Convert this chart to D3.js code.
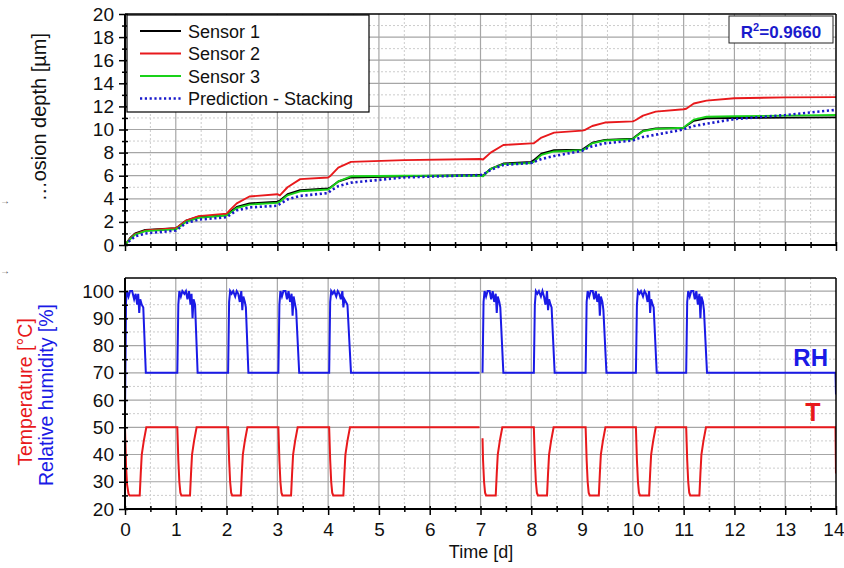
<!DOCTYPE html>
<html><head><meta charset="utf-8">
<script src="https://cdn.jsdelivr.net/npm/d3@7"></script>
<style>
body{margin:0;background:#fff}
svg{display:block;font-family:"Liberation Sans",Arial,Helvetica,sans-serif}
.domain{display:none}
</style>
</head><body>
<svg id="chart" width="844" height="568"></svg>
<script>
// ---------- DATA ----------
const time = [0,0.1,0.2,0.4,1.0,1.05,1.2,1.45,2.0,2.05,2.2,2.45,3.0,3.05,3.2,3.45,4.0,4.05,4.2,4.45,5.5,7.0,7.05,7.2,7.45,8.0,8.05,8.2,8.45,9.0,9.05,9.2,9.45,10.0,10.05,10.2,10.45,11.0,11.05,11.2,11.45,12.0,13.0,14.0];
const sensor1 = [0,0.6,1.0,1.3,1.45,1.6,2.1,2.45,2.6,2.8,3.3,3.6,3.75,3.85,4.4,4.75,4.9,5.0,5.5,5.85,5.95,6.06,6.0,6.6,7.05,7.2,7.35,7.9,8.2,8.25,8.4,8.85,9.1,9.2,9.4,9.9,10.1,10.15,10.3,10.75,10.97,11.0,11.03,11.05];
const sensor2 = [0,0.55,0.95,1.25,1.45,1.6,2.1,2.5,2.7,2.95,3.6,4.2,4.4,4.3,5.0,5.7,5.85,6.0,6.7,7.2,7.35,7.45,7.4,8.0,8.66,8.8,8.8,9.3,9.73,9.9,9.95,10.3,10.6,10.7,10.8,11.2,11.55,11.75,11.8,12.25,12.5,12.7,12.78,12.8];
const sensor3 = [0,0.5,0.9,1.2,1.35,1.5,2.0,2.35,2.55,2.7,3.2,3.5,3.65,3.75,4.3,4.65,4.8,4.95,5.5,5.95,6.0,6.0,5.95,6.6,7.0,7.1,7.2,7.8,8.1,8.2,8.3,8.8,9.05,9.15,9.35,9.85,10.05,10.15,10.35,10.85,11.1,11.15,11.2,11.25];
const prediction = [0,0.4,0.75,1.0,1.25,1.4,1.9,2.2,2.4,2.55,3.0,3.25,3.4,3.55,3.95,4.25,4.5,4.7,5.1,5.4,5.85,6.06,6.1,6.5,6.93,7.1,7.2,7.45,7.7,8.15,8.3,8.55,8.8,9.05,9.15,9.35,9.55,10.0,10.1,10.3,10.5,10.9,11.25,11.7];
const seriesNames = ["Sensor 1","Sensor 2","Sensor 3","Prediction - Stacking"];

// relative humidity [t, %] (null = gap in record)
const humidity = [
 [0,55],[0.02,96],[0.04,100],[0.07,98],[0.1,100],[0.14,100],[0.18,97],[0.21,99],[0.24,95],[0.26,99],[0.28,92],[0.3,97],[0.33,95],[0.36,94],[0.41,70],
 [1.03,70],[1.05,95],[1.07,100],[1.1,98],[1.13,100],[1.17,99],[1.2,100],[1.23,97],[1.26,100],[1.29,95],[1.31,99],[1.33,90],[1.35,97],[1.38,95],[1.43,70],
 [2.03,70],[2.05,96],[2.07,100],[2.1,99],[2.13,100],[2.17,98],[2.2,100],[2.23,99],[2.26,96],[2.29,100],[2.31,93],[2.33,98],[2.36,96],[2.38,94],[2.43,70],
 [3.02,70],[3.04,95],[3.06,100],[3.09,98],[3.12,100],[3.16,100],[3.19,97],[3.22,100],[3.25,96],[3.28,99],[3.3,91],[3.32,98],[3.35,95],[3.37,93],[3.43,70],
 [4.02,70],[4.04,96],[4.06,100],[4.09,99],[4.12,100],[4.16,98],[4.19,100],[4.22,99],[4.25,97],[4.28,100],[4.3,94],[4.32,97],[4.35,96],[4.38,95],[4.45,70],
 [6.98,70],[7.01,null],
 [7.04,70],[7.06,96],[7.08,100],[7.11,98],[7.14,100],[7.18,100],[7.21,97],[7.24,100],[7.27,96],[7.3,99],[7.32,92],[7.34,98],[7.37,96],[7.39,94],[7.45,70],
 [8.05,70],[8.07,95],[8.09,100],[8.12,99],[8.15,100],[8.19,98],[8.22,100],[8.25,98],[8.28,95],[8.31,100],[8.33,93],[8.35,97],[8.38,95],[8.4,94],[8.46,70],
 [9.07,70],[9.09,96],[9.11,100],[9.14,98],[9.17,100],[9.21,100],[9.24,97],[9.27,100],[9.3,96],[9.33,99],[9.35,91],[9.37,98],[9.4,96],[9.42,93],[9.48,70],
 [10.06,70],[10.08,95],[10.1,100],[10.13,99],[10.16,100],[10.2,98],[10.23,100],[10.26,99],[10.29,96],[10.32,100],[10.34,92],[10.36,97],[10.39,95],[10.41,94],[10.47,70],
 [11.05,70],[11.07,96],[11.09,100],[11.12,98],[11.15,100],[11.19,100],[11.22,97],[11.25,100],[11.28,95],[11.31,99],[11.33,90],[11.35,98],[11.38,96],[11.4,93],[11.46,70],
 [13.99,70],[14.0,62]
];
// temperature [t, °C]
const temperature = [
 [0,50],[0.02,36],[0.04,29],[0.07,25.5],[0.09,25],[0.29,25],[0.31,33],[0.33,40],[0.37,45],[0.42,50],
 [1.03,50],[1.05,38],[1.07,30],[1.09,26],[1.11,25],[1.28,25],[1.3,33],[1.32,40],[1.36,45],[1.41,50],
 [2.03,50],[2.05,38],[2.07,30],[2.09,26],[2.11,25],[2.28,25],[2.3,33],[2.32,40],[2.36,45],[2.41,50],
 [3.02,50],[3.04,38],[3.06,30],[3.08,26],[3.1,25],[3.27,25],[3.29,33],[3.31,40],[3.35,45],[3.4,50],
 [4.02,50],[4.04,38],[4.06,30],[4.08,26],[4.1,25],[4.3,25],[4.32,33],[4.34,40],[4.38,45],[4.43,50],
 [6.98,50],[7.01,null],
 [7.04,46],[7.05,38],[7.07,30],[7.09,26],[7.11,25],[7.3,25],[7.32,33],[7.34,40],[7.38,45],[7.43,50],
 [8.05,50],[8.07,38],[8.09,30],[8.11,26],[8.13,25],[8.31,25],[8.33,33],[8.35,40],[8.39,45],[8.44,50],
 [9.07,50],[9.09,38],[9.11,30],[9.13,26],[9.15,25],[9.33,25],[9.35,33],[9.37,40],[9.41,45],[9.46,50],
 [10.06,50],[10.08,38],[10.1,30],[10.12,26],[10.14,25],[10.32,25],[10.34,33],[10.36,40],[10.4,45],[10.45,50],
 [11.05,50],[11.07,38],[11.09,30],[11.11,26],[11.13,25],[11.31,25],[11.33,33],[11.35,40],[11.39,45],[11.44,50],
 [13.99,50],[14.0,33]
];
const xTicks = [0,1,2,3,4,5,6,7,8,9,10,11,12,13,14];
const topYTicks = [0,2,4,6,8,10,12,14,16,18,20];
const bottomYTicks = [20,30,40,50,60,70,80,90,100];

// ---------- LAYOUT ----------
const L = 125, R = 836;
const topT = 14, topB = 245, botT = 278, botB = 509;
const svg = d3.select("#chart");

const x = d3.scaleLinear().domain([0,14]).range([L,R]);
const yTop = d3.scaleLinear().domain([0,20]).range([topB,topT]);
const yBot = d3.scaleLinear().domain([20,104.8]).range([botB,botT]);

const colors = ["#000000","#e8191c","#19d219","#1a1acc"];

// grid
function grid(y, yMajor, yMinor, y0, y1) {
  const g = svg.append("g");
  const xMinor = d3.range(0.5,14,1);
  g.selectAll(".xm").data(xMinor).join("line")
    .attr("x1",d=>x(d)).attr("x2",d=>x(d)).attr("y1",y0).attr("y2",y1)
    .attr("stroke","#cccccc").attr("stroke-dasharray","2,2").attr("stroke-width",1);
  g.selectAll(".ym").data(yMinor).join("line")
    .attr("x1",L).attr("x2",R).attr("y1",d=>y(d)).attr("y2",d=>y(d))
    .attr("stroke","#cccccc").attr("stroke-dasharray","2,2").attr("stroke-width",1);
  g.selectAll(".xM").data(xTicks.slice(1,-1)).join("line")
    .attr("x1",d=>x(d)).attr("x2",d=>x(d)).attr("y1",y0).attr("y2",y1)
    .attr("stroke","#a6a6a6").attr("stroke-width",1.2);
  g.selectAll(".yM").data(yMajor).join("line")
    .attr("x1",L).attr("x2",R).attr("y1",d=>y(d)).attr("y2",d=>y(d))
    .attr("stroke","#a6a6a6").attr("stroke-width",1.2);
}
grid(yTop, d3.range(2,20,2), d3.range(1,20,2), topT, topB);
grid(yBot, d3.range(30,101,10), d3.range(25,104,10), botT, botB);

// clip paths
const defs = svg.append("defs");
defs.append("clipPath").attr("id","clipTop").append("rect").attr("x",L).attr("y",topT).attr("width",R-L).attr("height",topB-topT);
defs.append("clipPath").attr("id","clipBot").append("rect").attr("x",L).attr("y",botT).attr("width",R-L).attr("height",botB-botT);

// top lines
const series = [sensor1,sensor2,sensor3,prediction];
const lineTop = d3.line().x(d=>x(d[0])).y(d=>yTop(d[1]));
const gTop = svg.append("g").attr("clip-path","url(#clipTop)");
series.forEach((s,i)=>{
  const pts = time.map((t,j)=>[t,s[j]]);
  const p = gTop.append("path").datum(pts).attr("d",lineTop)
    .attr("fill","none").attr("stroke",colors[i]).attr("stroke-linejoin","round");
  if(i===3){ p.attr("stroke-width",2.6).attr("stroke-dasharray","2.2,2.6"); }
  else p.attr("stroke-width",1.9);
});

// bottom lines
const lineBot = d3.line().defined(d=>d[1]!==null).x(d=>x(d[0])).y(d=>yBot(d[1]));
const gBot = svg.append("g").attr("clip-path","url(#clipBot)");
gBot.append("path").datum(temperature).attr("d",lineBot).attr("fill","none").attr("stroke","#e8191c").attr("stroke-width",2);
gBot.append("path").datum(humidity).attr("d",lineBot).attr("fill","none").attr("stroke","#1a1ae6").attr("stroke-width",2);

// frames
function frame(y0,y1){
  svg.append("line").attr("x1",L).attr("x2",R).attr("y1",y0).attr("y2",y0).attr("stroke","#000").attr("stroke-width",1.5);
  svg.append("line").attr("x1",R).attr("x2",R).attr("y1",y0).attr("y2",y1).attr("stroke","#000").attr("stroke-width",1.5);
  svg.append("line").attr("x1",L).attr("x2",R).attr("y1",y1).attr("y2",y1).attr("stroke","#000").attr("stroke-width",2);
  svg.append("line").attr("x1",L).attr("x2",L).attr("y1",y0).attr("y2",y1).attr("stroke","#000").attr("stroke-width",2);
}
frame(topT,topB);
frame(botT,botB);

// axes
const fontTick = "19px";
function yAxis(y, ticks, minors){
  const a = svg.append("g").attr("transform",`translate(${L},0)`)
    .call(d3.axisLeft(y).tickValues(ticks).tickSizeInner(6).tickSizeOuter(0).tickPadding(5));
  a.selectAll("text").attr("font-size",fontTick).attr("fill","#111").attr("font-family","Liberation Sans, Arial, sans-serif");
  a.selectAll("line").attr("stroke","#000").attr("stroke-width",1.5);
  const b = svg.append("g").attr("transform",`translate(${L},0)`)
    .call(d3.axisRight(y).tickValues(ticks.concat(minors)).tickSize(3).tickFormat(""));
  b.selectAll("line").attr("stroke","#000").attr("stroke-width",1.5);
  const c = svg.append("g").attr("transform",`translate(${L},0)`)
    .call(d3.axisLeft(y).tickValues(minors).tickSize(3).tickFormat(""));
  c.selectAll("line").attr("stroke","#000").attr("stroke-width",1.5);
}
yAxis(yTop, topYTicks, d3.range(1,20,2));
yAxis(yBot, bottomYTicks, d3.range(25,104,10));

function xAxis(yPos, labels){
  const minors = d3.range(0.5,14,1);
  const a = svg.append("g").attr("transform",`translate(0,${yPos})`)
    .call(d3.axisBottom(x).tickValues(xTicks).tickSizeInner(6).tickSizeOuter(0).tickPadding(8).tickFormat(labels?d3.format("d"):""));
  a.selectAll("text").attr("font-size",fontTick).attr("fill","#111").attr("font-family","Liberation Sans, Arial, sans-serif");
  // keep the last label inside the page
  a.selectAll("text").filter(d=>d===14).attr("text-anchor","end").attr("x",8);
  a.selectAll("line").attr("stroke","#000").attr("stroke-width",1.5);
  const b = svg.append("g").attr("transform",`translate(0,${yPos})`)
    .call(d3.axisTop(x).tickValues(xTicks.concat(minors)).tickSize(3).tickFormat(""));
  b.selectAll("line").attr("stroke","#000").attr("stroke-width",1.5);
  const c = svg.append("g").attr("transform",`translate(0,${yPos})`)
    .call(d3.axisBottom(x).tickValues(minors).tickSize(3).tickFormat(""));
  c.selectAll("line").attr("stroke","#000").attr("stroke-width",1.5);
}
xAxis(topB,false);
xAxis(botB,true);

// axis titles
svg.append("text").attr("x",481).attr("y",558).attr("text-anchor","middle")
  .attr("font-size","18px").attr("fill","#111").text("Time [d]");
svg.append("text").attr("transform","translate(46,33) rotate(-90)").attr("text-anchor","end")
  .attr("font-size","20px").attr("fill","#111").text("\u2026osion depth [\u00b5m]");
svg.append("text").attr("transform","translate(32,392) rotate(-90)").attr("text-anchor","middle")
  .attr("font-size","19.5px").attr("fill","#e8191c").text("Temperature [\u00b0C]");
svg.append("text").attr("transform","translate(53,395) rotate(-90)").attr("text-anchor","middle")
  .attr("font-size","19.5px").attr("fill","#1a1ae6").text("Relative humidity [%]");

// small arrow glyphs at the left edge
[204,274].forEach(yy=>svg.append("text").attr("x",0).attr("y",yy).attr("font-size","10px").attr("fill","#555").text("\u2192"));

// legend
const lg = svg.append("g");
lg.append("rect").attr("x",127).attr("y",15).attr("width",242).attr("height",97)
  .attr("fill","#fff").attr("stroke","#000").attr("stroke-width",1.2);
seriesNames.forEach((n,i)=>{
  const yy = 31 + i*22.5;
  const ln = lg.append("line").attr("x1",140).attr("x2",181).attr("y1",yy).attr("y2",yy).attr("stroke",colors[i]);
  if(i===3) ln.attr("stroke-width",2.6).attr("stroke-dasharray","2.2,2.6");
  else ln.attr("stroke-width",2);
  lg.append("text").attr("x",188).attr("y",yy+6.5).attr("font-size","18px").attr("fill","#111").text(n);
});

// R² box
svg.append("rect").attr("x",729).attr("y",16).attr("width",104).attr("height",27)
  .attr("fill","#fff").attr("stroke","#222").attr("stroke-width",1);
const r2 = svg.append("text").attr("x",781).attr("y",38).attr("text-anchor","middle")
  .attr("font-size","17px").attr("font-weight","bold").attr("fill","#1a1acc");
r2.append("tspan").text("R");
r2.append("tspan").attr("font-size","11px").attr("dy","-7").text("2");
r2.append("tspan").attr("dy","7").text("=0.9660");

// RH / T labels
svg.append("text").attr("x",828).attr("y",366).attr("text-anchor","end")
  .attr("font-size","24px").attr("font-weight","bold").attr("fill","#1a1ae6").text("RH");
svg.append("text").attr("x",813).attr("y",421).attr("text-anchor","middle")
  .attr("font-size","25px").attr("font-weight","bold").attr("fill","#e8191c").text("T");
</script>
</body></html>
